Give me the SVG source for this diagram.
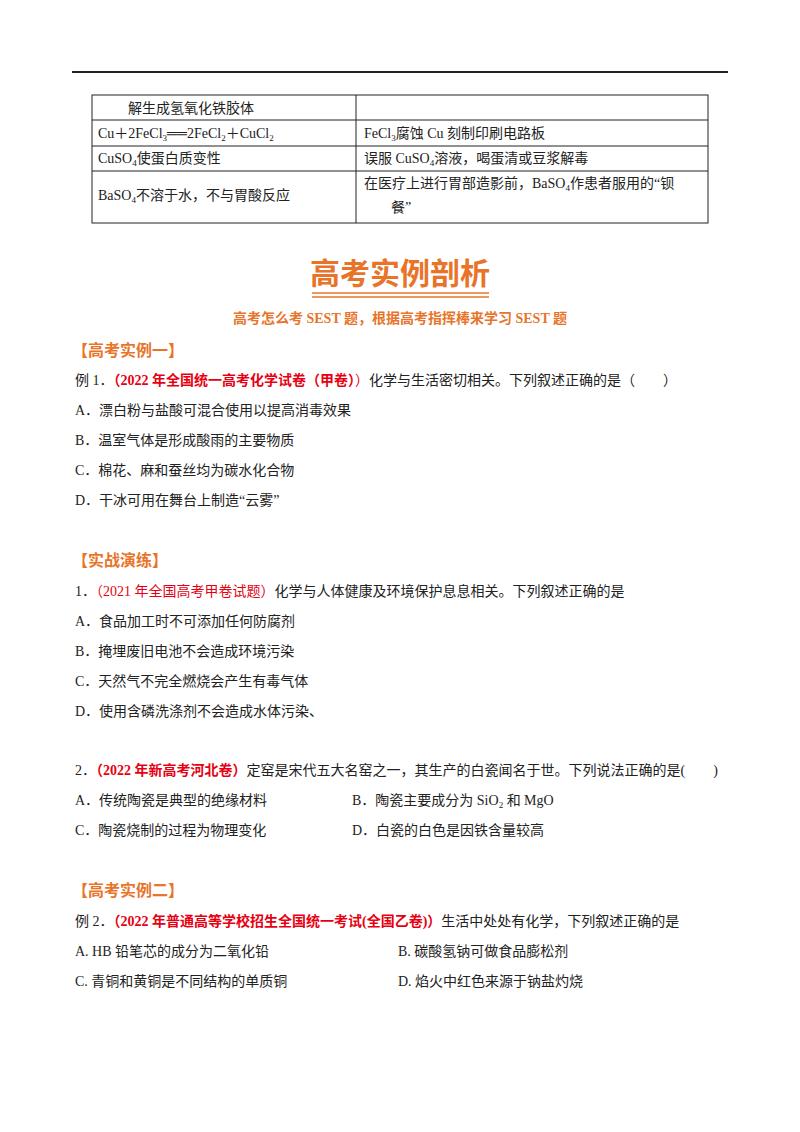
<svg xmlns="http://www.w3.org/2000/svg" width="800" height="1132" viewBox="0 0 800 1132">
<style>
text{font-family:"Liberation Serif","Noto Sans CJK SC",serif;font-size:14px;fill:#222}
.o{fill:#e8742a;font-weight:bold}
.r{fill:#e60012;font-weight:bold}
.h{fill:#e8742a;font-weight:bold;font-size:16px;font-family:"Noto Sans CJK SC",sans-serif}
line{stroke:#222}
</style>
<rect width="800" height="1132" fill="#fff"/>
<line x1="72" y1="72" x2="728" y2="72" stroke-width="2"/>
<g id="table" fill="none">
<rect x="92" y="95" width="616" height="128" fill="none" stroke="#222"/>
<line x1="356" y1="95" x2="356" y2="223"/>
<line x1="92" y1="120" x2="708" y2="120"/>
<line x1="92" y1="146" x2="708" y2="146"/>
<line x1="92" y1="171" x2="708" y2="171"/>
</g>
<text x="128" y="113">解生成氢氧化铁胶体</text>
<text x="98" y="138">Cu＋2FeCl<tspan font-size="9" dy="3">3</tspan><tspan dy="-3">══2FeCl</tspan><tspan font-size="9" dy="3">2</tspan><tspan dy="-3">＋CuCl</tspan><tspan font-size="9" dy="3">2</tspan></text>
<text x="364" y="138">FeCl<tspan font-size="9" dy="3">3</tspan><tspan dy="-3">腐蚀 Cu 刻制印刷电路板</tspan></text>
<text x="98" y="163">CuSO<tspan font-size="9" dy="3">4</tspan><tspan dy="-3">使蛋白质变性</tspan></text>
<text x="364" y="163">误服 CuSO<tspan font-size="9" dy="3">4</tspan><tspan dy="-3">溶液，喝蛋清或豆浆解毒</tspan></text>
<text x="98" y="200">BaSO<tspan font-size="9" dy="3">4</tspan><tspan dy="-3">不溶于水，不与胃酸反应</tspan></text>
<text x="364" y="188">在医疗上进行胃部造影前，BaSO<tspan font-size="9" dy="3">4</tspan><tspan dy="-3">作患者服用的“钡</tspan></text>
<text x="391" y="212">餐”</text>
<text x="400" y="284" text-anchor="middle" style="font-family:'Noto Sans CJK SC',sans-serif;font-size:30px;font-weight:bold;fill:#e8742a">高考实例剖析</text>
<line x1="312" y1="293" x2="489" y2="293" style="stroke:#e8742a" stroke-width="1.5"/>
<line x1="312" y1="297" x2="489" y2="297" style="stroke:#e8742a" stroke-width="1.5"/>
<text x="400" y="323" text-anchor="middle" class="o" font-size="13">高考怎么考 SEST 题，根据高考指挥棒来学习 SEST 题</text>
<text x="72" y="356" class="h">【高考实例一】</text>
<text x="75" y="385">例 1．<tspan class="r">（2022 年全国统一高考化学试卷（甲卷）</tspan><tspan fill="#e60012">）</tspan>化学与生活密切相关。下列叙述正确的是（　　）</text>
<text x="75" y="415">A．漂白粉与盐酸可混合使用以提高消毒效果</text>
<text x="75" y="445">B．温室气体是形成酸雨的主要物质</text>
<text x="75" y="475">C．棉花、麻和蚕丝均为碳水化合物</text>
<text x="75" y="505">D．干冰可用在舞台上制造“云雾”</text>
<text x="72" y="566" class="h">【实战演练】</text>
<text x="75" y="596">1．<tspan fill="#e60012">（2021 年全国高考甲卷试题）</tspan>化学与人体健康及环境保护息息相关。下列叙述正确的是</text>
<text x="75" y="626">A．食品加工时不可添加任何防腐剂</text>
<text x="75" y="656">B．掩埋废旧电池不会造成环境污染</text>
<text x="75" y="686">C．天然气不完全燃烧会产生有毒气体</text>
<text x="75" y="716">D．使用含磷洗涤剂不会造成水体污染、</text>
<text x="75" y="775">2．<tspan class="r">（2022 年新高考河北卷）</tspan>定窑是宋代五大名窑之一，其生产的白瓷闻名于世。下列说法正确的是(　　)</text>
<text x="75" y="805">A．传统陶瓷是典型的绝缘材料</text>
<text x="352" y="805">B．陶瓷主要成分为 SiO<tspan font-size="9" dy="3">2</tspan><tspan dy="-3"> 和 MgO</tspan></text>
<text x="75" y="835">C．陶瓷烧制的过程为物理变化</text>
<text x="352" y="835">D．白瓷的白色是因铁含量较高</text>
<text x="72" y="896" class="h">【高考实例二】</text>
<text x="75" y="926">例 2．<tspan class="r">（2022 年普通高等学校招生全国统一考试(全国乙卷)）</tspan>生活中处处有化学，下列叙述正确的是</text>
<text x="75" y="956">A. HB 铅笔芯的成分为二氧化铅</text>
<text x="398" y="956">B. 碳酸氢钠可做食品膨松剂</text>
<text x="75" y="986">C. 青铜和黄铜是不同结构的单质铜</text>
<text x="398" y="986">D. 焰火中红色来源于钠盐灼烧</text>
</svg>
